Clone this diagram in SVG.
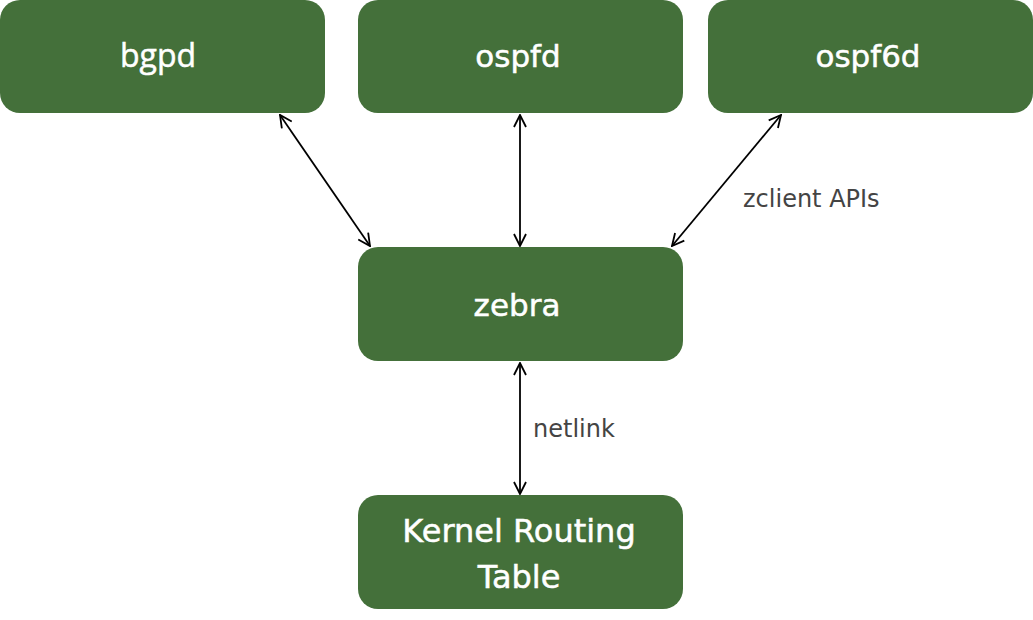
<svg xmlns="http://www.w3.org/2000/svg" width="1033" height="620" viewBox="0 0 1033 620">
<defs>
<style>
.box{fill:#44703a}
.t{fill:#ffffff;stroke:#ffffff;stroke-width:0.5;font-family:"DejaVu Sans",Verdana,sans-serif;font-size:31px;text-anchor:middle}
.k{font-size:32px}
.o{font-family:"Open Sans","Noto Sans",sans-serif;font-size:32px}
.lbl{fill:#444444;font-family:"DejaVu Sans",Verdana,sans-serif;font-size:24px}
.c{stroke:#000;stroke-width:1.8;fill:none;marker-start:url(#a);marker-end:url(#a)}
</style>
<marker id="a" viewBox="0 0 14 14" refX="13" refY="7" markerWidth="14" markerHeight="14" markerUnits="userSpaceOnUse" orient="auto-start-reverse">
<path d="M1,1 L13,7 L1,13" fill="none" stroke="#000" stroke-width="1.8"/>
</marker>
</defs>
<g id="connectors">
<line class="c" x1="280" y1="115" x2="370" y2="246"/>
<line class="c" x1="520" y1="115" x2="520" y2="246"/>
<line class="c" x1="781" y1="115" x2="672" y2="246"/>
<line class="c" x1="520" y1="363" x2="520" y2="494"/>
</g>
<g id="bgpd"><rect class="box" x="0" y="0" width="325" height="113" rx="20"/><text class="t o" x="158" y="67">bgpd</text></g>
<g id="ospfd"><rect class="box" x="358" y="0" width="325" height="113" rx="20"/><text class="t" x="518" y="67">ospfd</text></g>
<g id="ospf6d"><rect class="box" x="708" y="0" width="325" height="113" rx="20"/><text class="t" x="868" y="67">ospf6d</text></g>
<g id="zebra"><rect class="box" x="358" y="247" width="325" height="114" rx="20"/><text class="t" x="517" y="316">zebra</text></g>
<g id="kernel"><rect class="box" x="358" y="495" width="325" height="114" rx="20"/><text class="t k" x="519" y="542">Kernel Routing</text><text class="t k" x="519" y="588">Table</text></g>
<g id="labels"><text class="lbl" x="743" y="207">zclient APIs</text><text class="lbl" x="533" y="437">netlink</text></g>
</svg>
